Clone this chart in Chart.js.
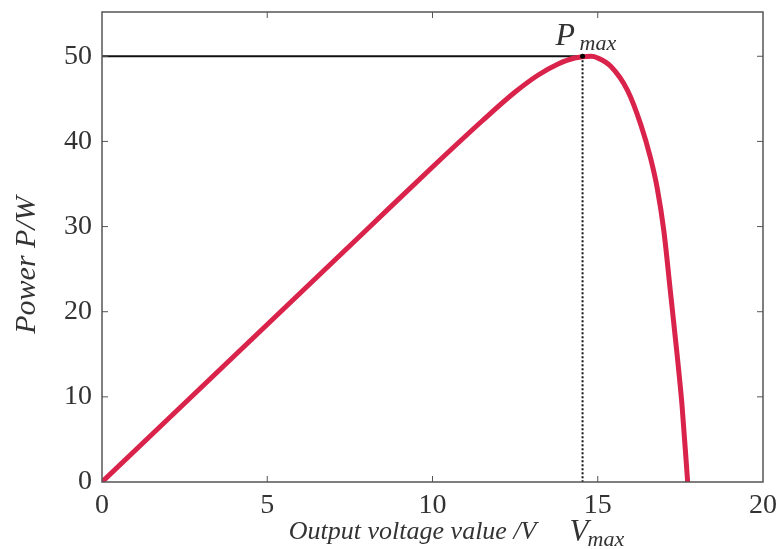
<!DOCTYPE html>
<html>
<head>
<meta charset="utf-8">
<script src="https://cdn.jsdelivr.net/npm/chart.js@4.4.0/dist/chart.umd.min.js"></script>
<style>
  html, body { margin: 0; padding: 0; background: #fff; }
  #wrap { width: 780px; height: 549px; }
</style>
</head>
<body>
<div id="wrap"><canvas id="myChart" width="780" height="549"></canvas></div>
<script>
// P-V curve
const voltage = [0, 2, 4, 6, 8, 10, 11.5, 12.5, 13.2, 13.8, 14.3, 14.8, 15.0, 15.4, 15.9, 16.3, 16.6, 16.8, 17.0, 17.2, 17.4, 17.55, 17.72];
const power = [0, 7.4, 14.8, 22.2, 29.6, 37.0, 42.4, 45.8, 47.8, 49.1, 49.8, 50, 49.8, 48.8, 46, 42, 38, 34.5, 29.5, 22.3, 15, 9, 0];
const xTicks = [0, 5, 10, 15, 20];
const yTicks = [0, 10, 20, 30, 40, 50];
const vMax = 14.54;
const pMax = 50;

const serif = '"Liberation Serif", "DejaVu Serif", serif';
const textColor = '#333';

let curve = [];
for (let i = 0; i < voltage.length; i++) {
  curve.push({ x: voltage[i], y: power[i] });
}

// frame, inward ticks and the text labels
const framePlugin = {
  id: 'frame',
  afterDatasetsDraw(chart) {
    const ctx = chart.ctx;
    const a = chart.chartArea;
    const xs = chart.scales.x;
    const ys = chart.scales.y;
    ctx.save();
    ctx.strokeStyle = '#555';
    ctx.lineWidth = 1.5;
    ctx.strokeRect(a.left, a.top, a.right - a.left, a.bottom - a.top);
    ctx.lineWidth = 1;
    const t = 6;
    for (let i = 1; i < xTicks.length - 1; i++) {
      const px = xs.getPixelForValue(xTicks[i]);
      ctx.beginPath();
      ctx.moveTo(px, a.bottom); ctx.lineTo(px, a.bottom - t);
      ctx.moveTo(px, a.top); ctx.lineTo(px, a.top + t);
      ctx.stroke();
    }
    for (let i = 1; i < yTicks.length; i++) {
      const py = ys.getPixelForValue(yTicks[i]);
      ctx.beginPath();
      ctx.moveTo(a.left, py); ctx.lineTo(a.left + t, py);
      ctx.moveTo(a.right, py); ctx.lineTo(a.right - t, py);
      ctx.stroke();
    }

    ctx.fillStyle = textColor;
    // y title
    ctx.save();
    ctx.translate(27, 265);
    ctx.rotate(-Math.PI / 2);
    ctx.font = 'italic 30px ' + serif;
    ctx.textAlign = 'center';
    ctx.textBaseline = 'middle';
    ctx.fillText('Power P/W', 0, 0);
    ctx.restore();

    // x title
    ctx.font = 'italic 26px ' + serif;
    ctx.textAlign = 'center';
    ctx.textBaseline = 'alphabetic';
    ctx.fillText('Output voltage value /V', xs.getPixelForValue(9.4), 539);

    // P max
    const pmx = xs.getPixelForValue(vMax);
    const pmy = ys.getPixelForValue(pMax);
    ctx.textAlign = 'left';
    ctx.font = 'italic 32px ' + serif;
    ctx.fillText('P', pmx - 27, pmy - 11);
    ctx.font = 'italic 22px ' + serif;
    ctx.fillText('max', pmx - 3, pmy - 6);

    // V max
    ctx.font = 'italic 31px ' + serif;
    ctx.fillText('V', pmx - 13, 541);
    ctx.font = 'italic 22px ' + serif;
    ctx.fillText('max', pmx + 5, 546);

    // peak dot
    ctx.beginPath();
    ctx.arc(pmx, pmy, 2.5, 0, Math.PI * 2);
    ctx.fillStyle = '#000';
    ctx.fill();
    ctx.restore();
  }
};

const ctx = document.getElementById('myChart').getContext('2d');
const myChart = new Chart(ctx, {
  type: 'line',
  data: {
    datasets: [{
      data: curve,
      borderColor: '#d9234b',
      borderWidth: 5,
      pointRadius: 0,
      cubicInterpolationMode: 'monotone',
      borderCapStyle: 'round',
      order: 1
    }, {
      data: [{ x: 0, y: pMax }, { x: vMax, y: pMax }],
      borderColor: '#111',
      borderWidth: 2,
      pointRadius: 0,
      order: 2
    }, {
      data: [{ x: vMax, y: pMax }, { x: vMax, y: 0 }],
      borderColor: '#111',
      borderWidth: 2,
      borderDash: [2, 2],
      pointRadius: 0,
      order: 2
    }]
  },
  options: {
    responsive: false,
    animation: false,
    layout: { padding: { left: 0, right: 17, top: 12, bottom: 0 } },
    plugins: { legend: { display: false }, tooltip: { enabled: false } },
    scales: {
      x: {
        type: 'linear',
        min: 0,
        max: 20,
        grid: { display: false, drawTicks: false },
        border: { display: false },
        afterBuildTicks: (s) => { s.ticks = xTicks.map(v => ({ value: v })); },
        afterFit: (s) => { s.height = 67; s.paddingLeft = 0; s.paddingRight = 0; },
        ticks: {
          padding: 7,
          maxRotation: 0,
          color: textColor,
          font: { family: serif, size: 28 }
        }
      },
      y: {
        type: 'linear',
        min: 0,
        max: 55.2,
        grid: { display: false, drawTicks: false },
        border: { display: false },
        afterBuildTicks: (s) => { s.ticks = yTicks.map(v => ({ value: v })); },
        afterFit: (s) => { s.width = 102; s.paddingTop = 0; s.paddingBottom = 0; },
        ticks: {
          padding: 10,
          color: textColor,
          font: { family: serif, size: 28 }
        }
      }
    }
  },
  plugins: [framePlugin]
});
</script>
</body>
</html>
